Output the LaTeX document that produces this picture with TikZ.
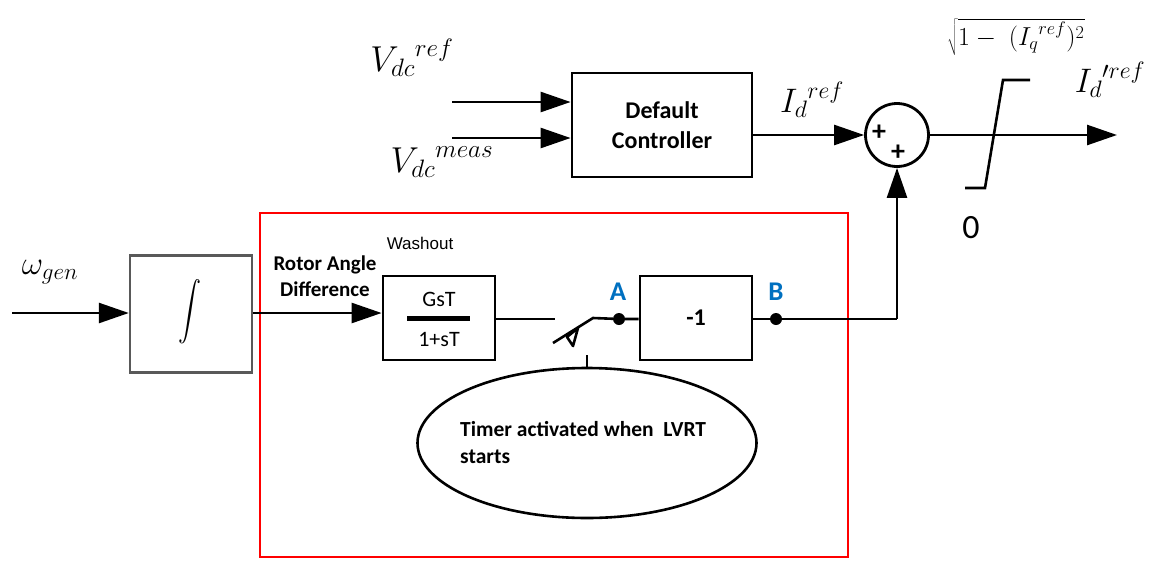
\RequirePackage{fix-cm}
\documentclass[tikz,border=0pt]{standalone}
\usepackage[no-math]{fontspec}
\setmainfont{Carlito}
\newfontfamily\arialf{Liberation Sans}
\usetikzlibrary{arrows.meta,shapes.geometric}
\tikzset{
  wire/.style={line width=2.6pt},
  arr/.style={wire,-{Triangle[length=30pt,width=20pt]}},
  blk/.style={draw,line width=2.8pt,rectangle,inner sep=0pt},
  lbl/.style={inner sep=0pt,text=black},
  dotn/.style={circle,fill=black,inner sep=0pt,minimum size=12pt},
}
\begin{document}
\begin{tikzpicture}[x=1pt,y=-1pt]
\useasboundingbox (0,0) rectangle (1151,563);
% red box
\draw[red,line width=1.6pt] (260,213) rectangle (848,557);
% blocks
\node[blk,minimum width=180pt,minimum height=104pt,font=\bfseries\fontsize{24}{30}\selectfont,align=center] (ctrl) at (662,125) {Default\\Controller};
\node[draw,circle,line width=2.8pt,minimum size=63pt,inner sep=0pt] (sum) at (897,135) {};
\node[lbl,font=\bfseries\fontsize{28}{28}\selectfont] (p1) at (879,133) {+};
\node[lbl,font=\bfseries\fontsize{28}{28}\selectfont] (p2) at (898,153) {+};
\node[draw=black!65,line width=2.4pt,rectangle,minimum width=122pt,minimum height=117pt,inner sep=0pt] (integ) at (191,314) {};
\node[lbl] (intsym) at (190,312) {\scalebox{2.3}[2.9]{$\displaystyle\int$}};
\node[blk,minimum width=112pt,minimum height=84pt] (wash) at (439,318) {};
\node[lbl,font=\fontsize{22}{24}\selectfont] (num) at (439,299) {GsT};
\node[lbl,font=\fontsize{22}{24}\selectfont] (den) at (439,339) {1+sT};
\draw[line width=5pt] (407,318) -- (470,318);
\node[blk,minimum width=112pt,minimum height=84pt,font=\bfseries\fontsize{24}{24}\selectfont] (neg) at (696,318) {-1};
\node[draw,ellipse,line width=2.6pt,minimum width=339pt,minimum height=150pt,inner sep=0pt] (timer) at (587,443) {};
\node[lbl,anchor=north west,align=left,font=\bfseries\fontsize{21.5}{27}\selectfont] (ttext) at (460,421) {Timer activated when\ \ LVRT\\starts};
% coordinates
\coordinate (in1) at (452,102);
\coordinate (in2) at (452,138);
\coordinate (w0) at (12,313);
\coordinate (swL) at (555,319);
\coordinate (swP) at (553,343);
\coordinate (swT) at (593,318);
\node[dotn] (A) at (619,319) {};
\node[dotn] (B) at (776,319) {};
\coordinate (corner) at (897,319);
\coordinate (oend) at (1117,135);
\coordinate (tick) at (587,355);
% connectors
\draw[arr] (in1) -- (in1 -| ctrl.west);
\draw[arr] (in2) -- (in2 -| ctrl.west);
\draw[arr] (ctrl.east |- sum) -- (sum.west);
\draw[arr] (sum.east) -- (oend);
\draw[arr] (w0) -- (integ.west |- w0);
\draw[arr] (integ.east |- w0) -- (wash.west |- w0);
\draw[wire] (wash.east |- swL) -- (swL);
\draw[wire,line join=miter] (swP) -- (swT) -- (A) -- (neg.west |- A);
\draw[wire,line join=round] (567,337) -- (578,328) -- (573,346) -- cycle;
\draw[line width=1.6pt] (tick) -- (timer.north);
\draw[wire] (neg.east |- B) -- (B) -- (corner);
\draw[arr] (corner) -- (sum.south);
% saturation
\draw[wire] (965,188) -- (985,188) -- (1003,80) -- (1030,80);
% labels
\node[lbl,font=\fontsize{36}{36}\selectfont] (vref) at (412,58) {${V_{dc}}^{ref}$};
\node[lbl,font=\fontsize{36}{36}\selectfont] (vmeas) at (442,162) {${V_{dc}}^{meas}$};
\node[lbl,font=\fontsize{34}{34}\selectfont] (idref) at (812,100) {${I_d}^{ref}$};
\node[lbl,font=\fontsize{34}{34}\selectfont] (idpref) at (1110,80) {${I_d}^{\prime ref}$};
\node[lbl,font=\fontsize{26}{26}\selectfont] (sq) at (1016,37) {$\sqrt{1-\;({I_q}^{ref})^2}$};
\node[lbl,font=\fontsize{34}{34}\selectfont] (zero) at (971,228) {0};
\node[lbl,font=\fontsize{33}{33}\selectfont] (wgen) at (50,272) {$\omega_{gen}$};
\node[lbl,align=center,font=\bfseries\fontsize{21}{26}\selectfont] (rad) at (325,276) {Rotor Angle\\Difference};
\node[lbl,font=\arialf\fontsize{17}{20}\selectfont] (wl) at (420,243) {Washout};
\node[lbl,text={rgb,255:red,0;green,112;blue,192},font=\bfseries\fontsize{27}{27}\selectfont] (Al) at (618,292) {A};
\node[lbl,text={rgb,255:red,0;green,112;blue,192},font=\bfseries\fontsize{27}{27}\selectfont] (Bl) at (776,292) {B};
\end{tikzpicture}
\end{document}
